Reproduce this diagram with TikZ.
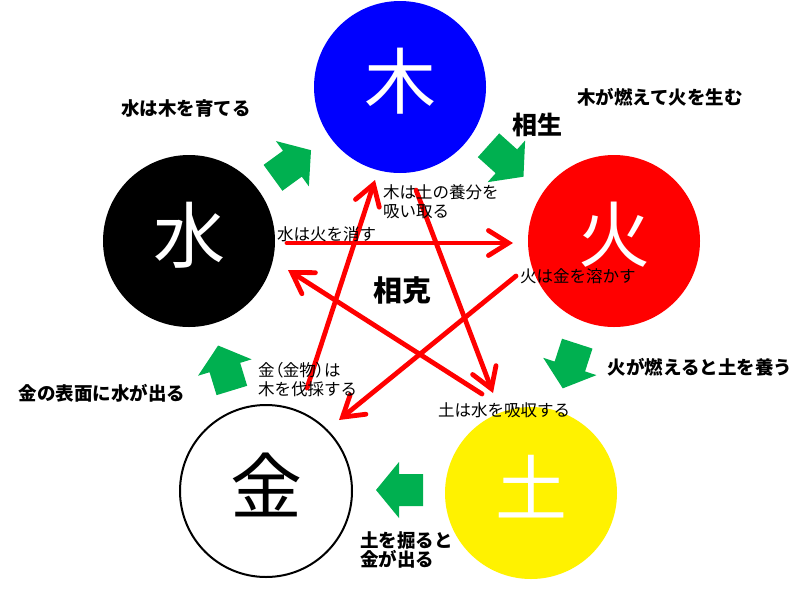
\documentclass[tikz,border=0pt]{standalone}
\usepackage{fontspec}
\newfontfamily\jp{Noto Sans CJK JP}
\newfontfamily\jpp{Noto Sans CJK JP}[RawFeature=+palt]
\usetikzlibrary{arrows.meta}
\definecolor{ggreen}{RGB}{0,176,80}
\begin{document}
\begin{tikzpicture}[x=1pt,y=-1pt,
  elem/.style={circle, minimum size=172pt, inner sep=0pt, draw=none},
  bigchar/.style={inner sep=0pt, font=\jp\fontsize{72}{72}\selectfont},
  small/.style={inner sep=0pt, align=left, anchor=west, font=\jp\fontsize{16.5}{19}\selectfont},
  mid/.style={inner sep=0pt, align=left, font=\jp\bfseries\fontsize{18.5}{19.5}\selectfont},
  head/.style={inner sep=0pt, font=\jp\bfseries\fontsize{#1}{#1}\selectfont},
  kill/.style={draw=red, line width=4.8pt, line cap=round,
    -{Straight Barb[length=20pt,width=25pt,line cap=round]}},
  gblock/.pic={\fill[ggreen] (-23.5,-16) -- (0.5,-16) -- (0.5,-28) -- (23.5,0) -- (0.5,28) -- (0.5,16) -- (-23.5,16) -- cycle;}
]
\useasboundingbox (0,0) rectangle (800,600);
\fill[white] (0,0) rectangle (800,600);

% elements
\node[elem, fill=blue]   (moku) at (400,87)  {};
\node[elem, fill=red]    (ka)   at (614,241) {};
\node[elem, fill=yellow] (do)   at (531,493) {};
\node[elem, fill=white, draw=black, line width=2pt] (kin) at (266,491) {};
\node[elem, fill=black]  (sui)  at (189,241) {};

\node[bigchar, text=white] (tmoku) at ([yshift=6pt]moku.center) {木};
\node[bigchar, text=white] (tka)   at ([yshift=6pt]ka.center)   {火};
\node[bigchar, text=white] (tdo)   at ([yshift=6pt]do.center)   {土};
\node[bigchar, text=black] (tkin)  at ([yshift=6pt]kin.center)  {金};
\node[bigchar, text=white] (tsui)  at ([yshift=6pt]sui.center)  {水};

% generating cycle (green block arrows)
\pic[rotate=36]   at (292,164)   {gblock};
\pic[rotate=-42]  at (506,161)   {gblock};
\pic[rotate=-108] at (570,366)   {gblock};
\pic[rotate=180]  at (399.5,490) {gblock};
\pic[rotate=107]  at (225,368)   {gblock};

% overcoming cycle (red pentagram)
\coordinate (s1) at (287,243); \coordinate (e1) at (513,243);
\coordinate (s2) at (516,276); \coordinate (e2) at (339,420);
\coordinate (s3) at (307,388); \coordinate (e3) at (375,180);
\coordinate (s4) at (416,190); \coordinate (e4) at (493,393);
\coordinate (s5) at (482,394); \coordinate (e5) at (288,270);
\draw[kill] (s1) -- (e1);
\draw[kill] (s2) -- (e2);
\draw[kill] (s3) -- (e3);
\draw[kill] (s4) -- (e4);
\draw[kill] (s5) -- (e5);

% labels
\node[mid] (l1) at (186,108) {水は木を育てる};
\node[mid] (l2) at (660,97)  {木が燃えて火を生む};
\node[head=25] (l3) at (537,125) {相生};
\node[mid] (l4) at (700,367) {火が燃えると土を養う};
\node[mid] (l5) at (102,393) {金の表面に水が出る};
\node[mid, anchor=west] (l6) at (360,550) {土を掘ると\\金が出る};
\node[head=29] (l7) at (402,290) {相克};

\node[small] (k1) at (383,201.5) {木は土の養分を\\吸い取る};
\node[small] (k2) at (277,234) {水は火を消す};
\node[small] (k3) at (520,276) {火は金を溶かす};
\node[small] (k4) at (438,410) {土は水を吸収する};
\node[small] (k5) at (258,380) {{\jpp 金（金物）は}\\木を伐採する};
\end{tikzpicture}
\end{document}
